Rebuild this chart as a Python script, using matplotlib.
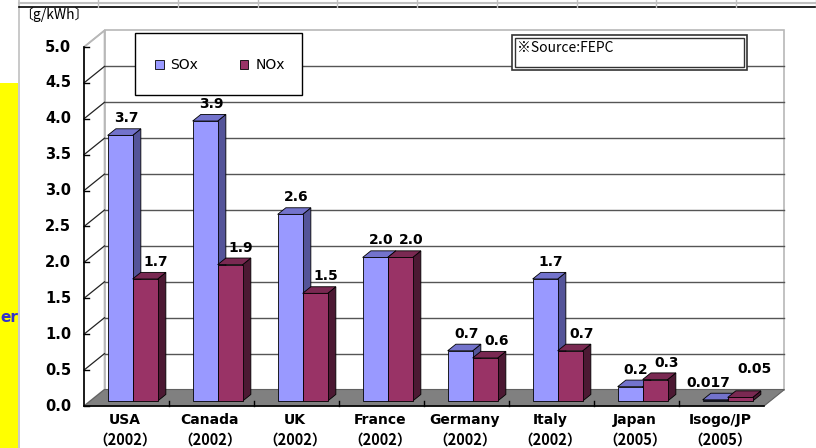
import numpy as np
import matplotlib
matplotlib.use('Agg')
import matplotlib.pyplot as plt
from matplotlib.patches import Polygon, Rectangle, Patch

countries = ['USA', 'Canada', 'UK', 'France', 'Germany', 'Italy', 'Japan', 'Isogo/JP']
years = ['2002', '2002', '2002', '2002', '2002', '2002', '2005', '2005']
sox = [3.7, 3.9, 2.6, 2.0, 0.7, 1.7, 0.2, 0.017]
nox = [1.7, 1.9, 1.5, 2.0, 0.6, 0.7, 0.3, 0.05]
yticks = [0.0, 0.5, 1.0, 1.5, 2.0, 2.5, 3.0, 3.5, 4.0, 4.5, 5.0]

W, H = 816, 448
PX = 85.0    # pixels per category
PY = 71.8    # pixels per unit
DX = 20.5 / PX   # wall depth in data units
DY = 16.5 / PY
JP = ['Noto Sans CJK JP', 'DejaVu Sans']

fig = plt.figure(figsize=(W / 100, H / 100), dpi=100)
fig.patch.set_facecolor('white')

# main axes: front plane of the 3d chart
ax = fig.add_axes([84 / W, (H - 406) / H, 680 / W, 359 / H])
ax.set_xlim(0, 8)
ax.set_ylim(0, 5)
ax.axis('off')
ax.set_zorder(1)

n = len(countries)
ymax = yticks[-1]

# back wall
ax.add_patch(Polygon([(DX, DY), (n + DX, DY), (n + DX, ymax + DY), (DX, ymax + DY)],
                     closed=True, facecolor='white', edgecolor='#b8b8b8', lw=1.2, clip_on=False, zorder=1))
# side wall
ax.add_patch(Polygon([(0, 0), (0, ymax), (DX, ymax + DY), (DX, DY)],
                     closed=True, facecolor='white', edgecolor='#b8b8b8', lw=1.2, clip_on=False, zorder=1))

# gridlines
for v in yticks[1:-1]:
    ax.plot([DX, n + DX], [v + DY, v + DY], color='#555555', lw=1.0, clip_on=False, zorder=2)
    ax.plot([0, DX], [v, v + DY], color='#222222', lw=0.9, clip_on=False, zorder=2)
ax.plot([0, DX], [ymax, ymax + DY], color='#b8b8b8', lw=1.2, clip_on=False, zorder=2)

# floor
ax.add_patch(Polygon([(0, 0), (n, 0), (n + DX, DY), (DX, DY)],
                     closed=True, facecolor='#808080', edgecolor='#606060', lw=0.8, clip_on=False, zorder=3))

# value axis line and ticks
ax.plot([0, 0], [0, ymax], color='black', lw=1.2, clip_on=False, zorder=4)
for v in yticks:
    ax.plot([0, 5 / PX], [v, v], color='black', lw=1.0, clip_on=False, zorder=4)
    ax.text(-13 / PX, v, f'{v:.1f}', ha='right', va='center', fontsize=10.5,
            fontweight='bold', family='DejaVu Sans', clip_on=False)

# category axis line and ticks
ax.plot([0, n], [0, 0], color='black', lw=1.2, clip_on=False, zorder=4)
for i in range(1, n):
    ax.plot([i, i], [0, 5 / PY], color='black', lw=1.0, clip_on=False, zorder=4)

for i, (c, yr) in enumerate(zip(countries, years)):
    ax.text(i + 0.48, -14 / PY, c, ha='center', va='center', fontsize=10,
            fontweight='bold', family='DejaVu Sans', clip_on=False)
    ax.text(i + 0.48, -34 / PY, '（' + yr + '）', ha='center', va='center', fontsize=10.5,
            fontweight='bold', family=JP, clip_on=False)

# bars
bw = 25 / PX
gap = 17.5 / PX
f0, f1 = 0.3, 0.7
ddx, ddy = (f1 - f0) * DX, (f1 - f0) * DY
series = [
    (sox, '#9999FF', '#545499', '#7373CC', 6 / PX),
    (nox, '#993366', '#4C1933', '#7A2952', 11 / PX),
]


def fmt(v):
    return f'{v:.1f}' if v >= 0.1 else f'{v:g}'


for i in range(n):
    tiny = max(sox[i], nox[i]) < 0.1
    for s, (vals, cf, cs, ct, lx) in enumerate(series):
        v = vals[i]
        x0 = i + gap + s * bw + f0 * DX
        y0 = f0 * DY
        z = 5 + i * 2 + s
        ax.add_patch(Polygon([(x0 + bw, y0), (x0 + bw + ddx, y0 + ddy), (x0 + bw + ddx, y0 + v + ddy), (x0 + bw, y0 + v)],
                             closed=True, facecolor=cs, edgecolor='black', lw=0.6, clip_on=False, zorder=z))
        ax.add_patch(Polygon([(x0, y0 + v), (x0 + bw, y0 + v), (x0 + bw + ddx, y0 + v + ddy), (x0 + ddx, y0 + v + ddy)],
                             closed=True, facecolor=ct, edgecolor='black', lw=0.6, clip_on=False, zorder=z))
        ax.add_patch(Rectangle((x0, y0), bw, v, facecolor=cf, edgecolor='black', lw=0.6,
                               clip_on=False, zorder=z))
        # the two tiny Isogo labels sit apart, as in the original
        tx, ty = lx, 17 / PY
        if tiny:
            tx, ty = (-7 / PX, 17 / PY) if s == 0 else (14 / PX, 28 / PY)
        ax.text(x0 + bw / 2 + tx, y0 + v + ty, fmt(v), ha='center', va='center',
                fontsize=10, fontweight='bold', family='DejaVu Sans', clip_on=False, zorder=30)

# decorations in pixel space
deco = fig.add_axes([0, 0, 1, 1])
deco.set_xlim(0, W)
deco.set_ylim(H, 0)
deco.axis('off')
deco.set_zorder(2)
deco.patch.set_alpha(0)

deco.add_patch(Rectangle((0, 83), 18, H - 83, facecolor='#FFFF00', edgecolor='none'))
deco.plot([18.5, 18.5], [0, H], color='#c0c0c0', lw=1.2)
deco.plot([18.5, W], [3.5, 3.5], color='#c0c0c0', lw=1.5)
deco.plot([18.5, W], [6.8, 6.8], color='black', lw=1.2)
for xd in np.arange(98, W, 79.75):
    deco.plot([xd, xd], [0, 6.8], color='#c0c0c0', lw=1.0)
deco.text(0.5, 317, 'er', ha='left', va='center', fontsize=11, fontweight='bold',
          color='#3333CC', family='DejaVu Sans')
deco.text(19, 15, '〔g/kWh〕', ha='left', va='center', fontsize=10, family=JP)

# legend box
deco.add_patch(Rectangle((135, 33), 167, 62, facecolor='white', edgecolor='black', lw=1.0, zorder=5))
handles = [Patch(facecolor='#9999FF', edgecolor='black', lw=0.6, label='SOx'),
           Patch(facecolor='#993366', edgecolor='black', lw=0.6, label='NOx')]
deco.legend(handles=handles, ncol=2, frameon=False, loc='center',
            bbox_to_anchor=(220 / W, 1 - 65 / H), bbox_transform=fig.transFigure,
            handlelength=0.6, handleheight=0.6, handletextpad=0.5,
            columnspacing=3.0, prop={'family': 'DejaVu Sans', 'size': 10})

# source box
deco.add_patch(Rectangle((512, 35), 235, 35, facecolor='white', edgecolor='#333333', lw=1.2, zorder=5))
deco.add_patch(Rectangle((515, 38), 229, 29, facecolor='white', edgecolor='#333333', lw=1.0, zorder=6))
deco.text(517, 48, '※Source:FEPC', ha='left', va='center', fontsize=10, zorder=7, family=JP)

fig.savefig('out.png', dpi=100)
